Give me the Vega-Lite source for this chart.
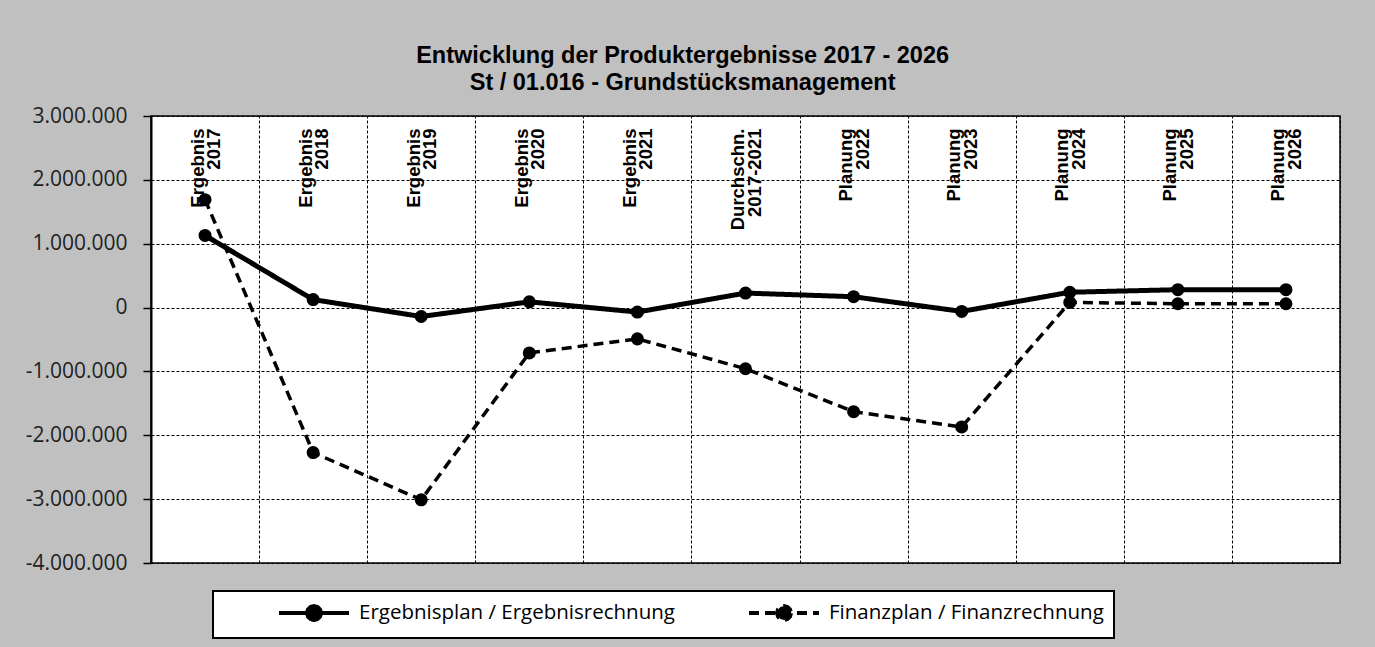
{
  "$schema": "https://vega.github.io/schema/vega-lite/v6.json",
  "autosize": {"type": "none"},
  "padding": {"left": 151, "top": 116, "right": 35, "bottom": 84},
  "width": 1189,
  "height": 447,
  "background": "#C0C0C0",
  "config": {
    "locale": {"number": {"decimal": ",", "thousands": ".", "grouping": [3], "currency": ["", " €"], "minus": "-"}},
    "view": {"fill": "white", "stroke": "black", "strokeWidth": 1.5},
    "font": "Liberation Sans",
    "legend": {"strokeWidth": 2}
  },
  "title": {
    "text": ["Entwicklung der Produktergebnisse 2017 - 2026", "St / 01.016 - Grundstücksmanagement"],
    "font": "Liberation Sans",
    "fontSize": 23.5,
    "fontWeight": "bold",
    "color": "black",
    "anchor": "middle",
    "frame": "bounds",
    "offset": 11,
    "lineHeight": 27
  },
  "data": {
    "values": [
      {"kategorie": "Ergebnis 2017", "serie": "Ergebnisplan / Ergebnisrechnung", "wert": 1130000},
      {"kategorie": "Ergebnis 2018", "serie": "Ergebnisplan / Ergebnisrechnung", "wert": 125000},
      {"kategorie": "Ergebnis 2019", "serie": "Ergebnisplan / Ergebnisrechnung", "wert": -140000},
      {"kategorie": "Ergebnis 2020", "serie": "Ergebnisplan / Ergebnisrechnung", "wert": 90000},
      {"kategorie": "Ergebnis 2021", "serie": "Ergebnisplan / Ergebnisrechnung", "wert": -70000},
      {"kategorie": "Durchschn. 2017-2021", "serie": "Ergebnisplan / Ergebnisrechnung", "wert": 227000},
      {"kategorie": "Planung 2022", "serie": "Ergebnisplan / Ergebnisrechnung", "wert": 170000},
      {"kategorie": "Planung 2023", "serie": "Ergebnisplan / Ergebnisrechnung", "wert": -60000},
      {"kategorie": "Planung 2024", "serie": "Ergebnisplan / Ergebnisrechnung", "wert": 240000},
      {"kategorie": "Planung 2025", "serie": "Ergebnisplan / Ergebnisrechnung", "wert": 280000},
      {"kategorie": "Planung 2026", "serie": "Ergebnisplan / Ergebnisrechnung", "wert": 280000},
      {"kategorie": "Ergebnis 2017", "serie": "Finanzplan / Finanzrechnung", "wert": 1690000},
      {"kategorie": "Ergebnis 2018", "serie": "Finanzplan / Finanzrechnung", "wert": -2270000},
      {"kategorie": "Ergebnis 2019", "serie": "Finanzplan / Finanzrechnung", "wert": -3010000},
      {"kategorie": "Ergebnis 2020", "serie": "Finanzplan / Finanzrechnung", "wert": -710000},
      {"kategorie": "Ergebnis 2021", "serie": "Finanzplan / Finanzrechnung", "wert": -490000},
      {"kategorie": "Durchschn. 2017-2021", "serie": "Finanzplan / Finanzrechnung", "wert": -958000},
      {"kategorie": "Planung 2022", "serie": "Finanzplan / Finanzrechnung", "wert": -1630000},
      {"kategorie": "Planung 2023", "serie": "Finanzplan / Finanzrechnung", "wert": -1870000},
      {"kategorie": "Planung 2024", "serie": "Finanzplan / Finanzrechnung", "wert": 80000},
      {"kategorie": "Planung 2025", "serie": "Finanzplan / Finanzrechnung", "wert": 60000},
      {"kategorie": "Planung 2026", "serie": "Finanzplan / Finanzrechnung", "wert": 60000}
    ]
  },
  "encoding": {
    "x": {
      "field": "kategorie",
      "type": "nominal",
      "scale": {
        "type": "band",
        "paddingInner": 0,
        "paddingOuter": 0,
        "domain": ["Ergebnis 2017", "Ergebnis 2018", "Ergebnis 2019", "Ergebnis 2020", "Ergebnis 2021", "Durchschn. 2017-2021", "Planung 2022", "Planung 2023", "Planung 2024", "Planung 2025", "Planung 2026"]
      },
      "axis": {
        "orient": "top",
        "title": null,
        "tickBand": "extent",
        "grid": true,
        "gridColor": "black",
        "gridDash": [3, 2],
        "gridWidth": 1,
        "gridOpacity": 1,
        "ticks": false,
        "domain": false,
        "labelAngle": -90,
        "labelAlign": "right",
        "labelBaseline": "middle",
        "labelPadding": -12,
        "labelOffset": -8,
        "labelExpr": "split(datum.label, ' ')",
        "labelFont": "Liberation Sans",
        "labelFontWeight": "bold",
        "labelFontSize": 18.5,
        "labelLineHeight": 16.5,
        "labelColor": "black",
        "labelOverlap": false,
        "labelBound": false,
        "labelFlush": false,
        "labelLimit": 0
      }
    },
    "y": {
      "field": "wert",
      "type": "quantitative",
      "scale": {"domain": [-4000000, 3000000], "nice": false, "zero": false},
      "axis": {
        "title": null,
        "values": [-4000000, -3000000, -2000000, -1000000, 0, 1000000, 2000000, 3000000],
        "format": ",d",
        "grid": true,
        "gridColor": "black",
        "gridDash": [3, 2],
        "gridWidth": 1,
        "gridOpacity": 1,
        "domainColor": "black",
        "domainWidth": 2,
        "tickColor": "black",
        "tickSize": 8,
        "tickWidth": 1.5,
        "labelFont": "Open Sans",
        "labelFontSize": 21,
        "labelColor": "#222222",
        "labelPadding": 16
      }
    }
  },
  "layer": [
    {
      "mark": {"type": "line", "color": "black"},
      "encoding": {
        "strokeDash": {
          "field": "serie",
          "type": "nominal",
          "scale": {
            "domain": ["Ergebnisplan / Ergebnisrechnung", "Finanzplan / Finanzrechnung"],
            "range": [[1, 0], [10, 6]]
          },
          "legend": {
            "orient": "none",
            "legendX": 62,
            "legendY": 475,
            "direction": "horizontal",
            "gridAlign": "all",
            "title": " ",
            "titleOrient": "left",
            "titlePadding": 54,
            "fillColor": "white",
            "strokeColor": "black",
            "padding": 10,
            "labelFont": "Open Sans",
            "labelFontSize": 20.5,
            "labelColor": "black",
            "labelOffset": 58,
            "labelLimit": 0,
            "columnPadding": 66,
            "symbolType": "M-1,0L6,0M3.2,0L3.106,0.35L2.85,0.606L2.5,0.7L2.15,0.606L1.894,0.35L1.8,0L1.894,-0.35L2.15,-0.606L2.5,-0.7L2.85,-0.606L3.106,-0.35Z",
            "symbolSize": 400,
            "symbolStrokeWidth": 4,
            "symbolStrokeColor": "black",
            "symbolFillColor": "black",
            "encode": {"symbols": {"update": {"fill": {"value": "black"}, "fillOpacity": {"value": 1}, "stroke": {"value": "black"}}}}
          }
        },
        "strokeWidth": {
          "condition": {"test": "datum.serie == 'Finanzplan / Finanzrechnung'", "value": 3.5},
          "value": 5
        }
      }
    },
    {
      "mark": {"type": "point", "filled": true, "shape": "circle", "size": 170, "color": "black", "opacity": 1},
      "encoding": {"detail": {"field": "serie", "type": "nominal"}}
    }
  ]
}
